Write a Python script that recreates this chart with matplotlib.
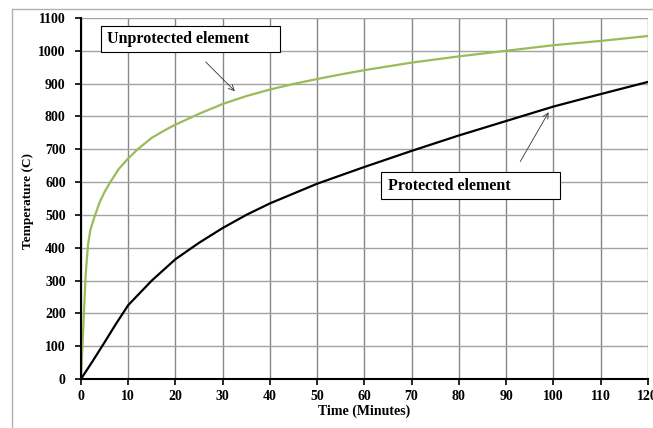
import matplotlib
matplotlib.use('Agg')
import matplotlib.pyplot as plt
from matplotlib.patches import Rectangle

# time in minutes, temperature in C
time_unprot = [0, 0.5, 1, 1.5, 2, 3, 4, 5, 6, 8, 10, 12, 15, 18, 20, 25, 30, 35, 40, 45, 50,
               55, 60, 70, 80, 90, 100, 110, 120]
temp_unprot = [0, 160, 320, 410, 455, 500, 540, 570, 595, 640, 672, 700, 735, 760, 775, 808, 838,
               862, 882, 899, 914, 928, 941, 964, 983, 1000, 1017, 1030, 1045]

time_prot = [0, 2.5, 5, 7.5, 10, 15, 20, 25, 30, 35, 40, 50, 60, 70, 80, 90, 100, 110, 120]
temp_prot = [0, 55, 112, 170, 225, 300, 365, 415, 460, 500, 535, 595, 646, 695, 742, 786, 830,
             868, 905]

x_ticks = list(range(0, 121, 10))
y_ticks = list(range(0, 1101, 100))

plt.rcParams['font.family'] = ['Liberation Serif', 'DejaVu Serif']
plt.rcParams['font.weight'] = 'bold'

fig = plt.figure(figsize=(6.53, 4.28), dpi=100)
ax = fig.add_axes([0.124, 0.1145, 0.868, 0.8435])

# outer chart frame
fig.patches.append(Rectangle((12 / 653, -0.1), 1.0, 1.079, transform=fig.transFigure,
                             fill=False, edgecolor='#b0b0b0', linewidth=1.0))

ax.plot(time_unprot, temp_unprot, color='#9bbb59', linewidth=1.6)
ax.plot(time_prot, temp_prot, color='black', linewidth=1.6)

ax.set_xlim(0, 120)
ax.set_ylim(0, 1100)
ax.set_xticks(x_ticks)
ax.set_yticks(y_ticks)
ax.xaxis.grid(True, color='#878787', linewidth=1.0)
ax.yaxis.grid(True, color='#a3a3a3', linewidth=1.0)
ax.set_axisbelow(True)
for s in ['top', 'right']:
    ax.spines[s].set_visible(False)
for s in ['left', 'bottom']:
    ax.spines[s].set_linewidth(1.5)
ax.tick_params(axis='both', labelsize=10, length=4, width=1.2)
ax.tick_params(axis='y', pad=7)
ax.tick_params(axis='x', pad=4)
for lbl in ax.get_xticklabels() + ax.get_yticklabels():
    lbl.set_fontweight('bold')
    lbl.set_clip_on(False)

ax.set_xlabel('Time (Minutes)', fontsize=10, fontweight='bold', labelpad=1)
ax.set_ylabel('Temperature (C)', fontsize=9.5, fontweight='bold')
ax.yaxis.set_label_coords(-0.082, 0.493)

# label boxes
ax.add_patch(Rectangle((4.2, 996), 37.9, 79.6, facecolor='white', edgecolor='black',
                       linewidth=0.8, zorder=3))
ax.text(5.5, 1036, 'Unprotected element', fontsize=11.5, fontweight='bold',
        va='center', ha='left', zorder=4)
ax.annotate('', xy=(33, 871), xytext=(26, 972),
            arrowprops=dict(arrowstyle='->', color='#333333', linewidth=0.6))

ax.add_patch(Rectangle((63.5, 548), 37.9, 82.5, facecolor='white', edgecolor='black',
                       linewidth=0.8, zorder=3))
ax.text(65, 589, 'Protected element', fontsize=11.5, fontweight='bold',
        va='center', ha='left', zorder=4)
ax.annotate('', xy=(99.3, 820), xytext=(92.7, 655),
            arrowprops=dict(arrowstyle='->', color='#333333', linewidth=0.6))

fig.savefig('out.png', dpi=100)
